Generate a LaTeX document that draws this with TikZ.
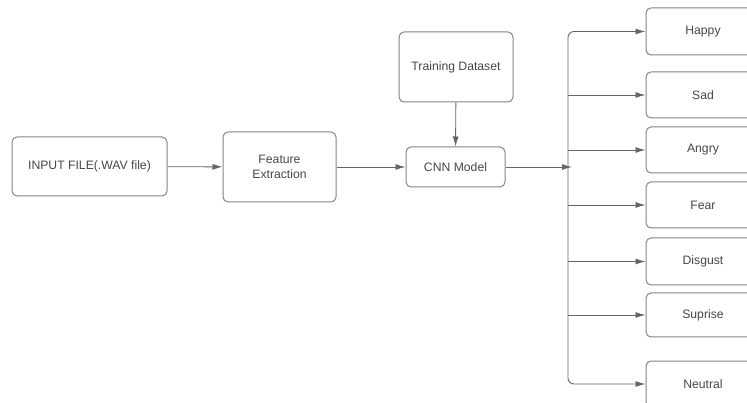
\documentclass[tikz,border=0pt]{standalone}
\usepackage{fontspec}
\setmainfont{Liberation Sans}
\usetikzlibrary{arrows.meta}

\definecolor{linegray}{HTML}{666666}
\definecolor{boxgray}{HTML}{858585}
\definecolor{textgray}{HTML}{474747}

\tikzset{
  box/.style={draw=boxgray, line width=1pt, rounded corners=5pt, fill=white,
    text=textgray, font=\fontsize{12.2}{14.5}\selectfont, align=center,
    inner sep=0pt},
  emo/.style={box, minimum width=114pt, minimum height=46pt},
  arr/.style={draw=linegray, line width=0.9pt, -{Latex[length=10pt,width=6pt]}}
}

\begin{document}
\begin{tikzpicture}[x=1pt, y=-1pt]
        % Frame
        \useasboundingbox (0,0) rectangle (747,403);
        \clip (0,0) rectangle (747,403);

        % Main chain
        \node[box, minimum width=155pt, minimum height=59pt] (input) at (89.5,166.5) {INPUT FILE(.WAV file)};
        \node[box, minimum width=113pt, minimum height=70pt] (feat) at (279.5,167) {Feature\\Extraction};
        \node[box, minimum width=114pt, minimum height=70pt] (train) at (456,67) {Training Dataset};
        \node[box, minimum width=99pt, minimum height=40pt] (cnn) at (455.5,167) {CNN Model};

        % Emotion classes
        \node[emo, minimum height=47pt] (happy) at (703,31.5) {Happy};
        \node[emo] (sad) at (703,95) {Sad};
        \node[emo] (angry) at (703,150) {Angry};
        \node[emo] (fear) at (703,205) {Fear};
        \node[emo, minimum height=47pt] (disgust) at (703,261.5) {Disgust};
        \node[emo, minimum height=44pt] (suprise) at (703,315) {Suprise};
        \node[emo] (neutral) at (703,384) {Neutral};

        % Connectors
        \draw[arr] (input) -- (feat);
        \draw[arr] (feat) -- (cnn);
        \draw[arr] (train) -- (cnn);
        \coordinate (bus) at (568,167);
        \coordinate (join) at (572,167);
        \draw[arr] (cnn) -- (join);

        % Bus to the classes
        \draw[arr, rounded corners=6pt] (bus) |- (happy.west);
        \draw[arr, rounded corners=6pt] (bus) |- (neutral.west);
        \draw[arr] (bus |- sad.west) -- (sad.west);
        \draw[arr] (bus |- angry.west) -- (angry.west);
        \draw[arr] (bus |- fear.west) -- (fear.west);
        \draw[arr] (bus |- disgust.west) -- (disgust.west);
        \draw[arr] (bus |- suprise.west) -- (suprise.west);
      \end{tikzpicture}
\end{document}
